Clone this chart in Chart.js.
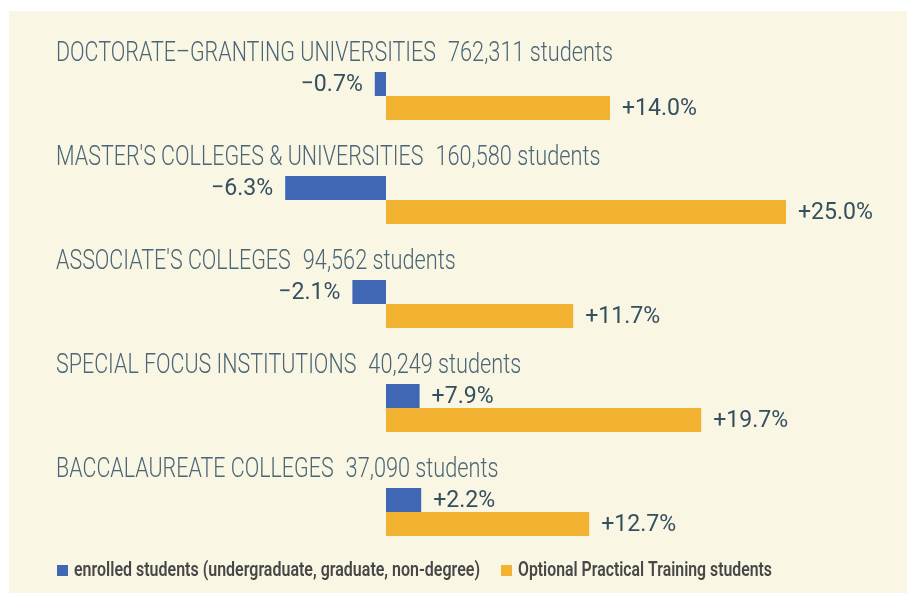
<!DOCTYPE html>
<html>
<head>
<meta charset="utf-8">
<script src="https://cdn.jsdelivr.net/npm/chart.js@4/dist/chart.umd.min.js"></script>
<style>
html,body{margin:0;padding:0;background:#fff;}
#wrap{width:907px;height:593px;}
</style>
</head>
<body>
<div id="wrap"><canvas id="c" width="907" height="593"></canvas></div>
<script>
const categories = ['DOCTORATE\u2013GRANTING UNIVERSITIES', "MASTER'S COLLEGES & UNIVERSITIES", "ASSOCIATE'S COLLEGES", 'SPECIAL FOCUS INSTITUTIONS', 'BACCALAUREATE COLLEGES'];
const studentCounts = ['762,311 students', '160,580 students', '94,562 students', '40,249 students', '37,090 students'];
const enrolledChange = [-0.7, -6.3, -2.1, 2.1, 2.2];
const enrolledLabels = ['\u22120.7%', '\u22126.3%', '\u22122.1%', '+7.9%', '+2.2%'];
const optChange = [14.0, 25.0, 11.7, 19.7, 12.7];
const optLabels = ['+14.0%', '+25.0%', '+11.7%', '+19.7%', '+12.7%'];
const seriesNames = ['enrolled students (undergraduate, graduate, non-degree)', 'Optional Practical Training students'];

const BLUE = '#3F67B3', ORANGE = '#F2B232', CREAM = '#FAF6E4';
const TITLE_COLOR = '#4B6676', LABEL_COLOR = '#34505F', LEGEND_COLOR = '#474747';

function scaledText(ctx, text, x, y, k, align) {
  ctx.save();
  ctx.translate(x, y);
  ctx.scale(k, 1);
  ctx.textAlign = align || 'left';
  ctx.fillText(text, 0, 0);
  ctx.restore();
}

const decor = {
  id: 'decor',
  beforeDraw(chart) {
    const ctx = chart.ctx;
    ctx.save();
    ctx.fillStyle = '#ffffff';
    ctx.fillRect(0, 0, chart.width, chart.height);
    ctx.fillStyle = CREAM;
    ctx.fillRect(9, 11, chart.width - 9, chart.height - 11);
    ctx.restore();
  },
  afterDatasetsDraw(chart) {
    const ctx = chart.ctx;
    const yScale = chart.scales.y;
    ctx.save();
    // titles
    ctx.font = '300 27px Roboto';
    ctx.fillStyle = TITLE_COLOR;
    ctx.textBaseline = 'alphabetic';
    const kT = 380 / ctx.measureText(categories[0]).width;
    const kN = 165 / ctx.measureText(studentCounts[0]).width;
    categories.forEach((c, i) => {
      const yc = yScale.getPixelForValue(i);
      const by = yc - 35;
      const w = ctx.measureText(c).width * kT;
      scaledText(ctx, c, 56, by, kT);
      scaledText(ctx, studentCounts[i], 56 + w + 12, by, kN);
    });
    // value labels
    ctx.font = '400 24px Roboto';
    ctx.fillStyle = LABEL_COLOR;
    ctx.textBaseline = 'middle';
    const kV = 75 / ctx.measureText(optLabels[0]).width;
    const labelSets = [enrolledLabels, optLabels];
    chart.data.datasets.forEach((ds, di) => {
      const meta = chart.getDatasetMeta(di);
      meta.data.forEach((bar, i) => {
        const v = ds.data[i];
        const p = bar.getProps(['x', 'y', 'base'], true);
        if (v < 0) {
          scaledText(ctx, labelSets[di][i], p.x - 12, p.y + 1, kV, 'right');
        } else {
          scaledText(ctx, labelSets[di][i], p.x + 12, p.y + 1, kV, 'left');
        }
      });
    });
    // legend
    ctx.font = '600 21px Roboto';
    ctx.textBaseline = 'alphabetic';
    const targets = [406, 254];
    const legX = [57, 501];
    const cols = [BLUE, ORANGE];
    seriesNames.forEach((n, i) => {
      const k = targets[i] / ctx.measureText(n).width;
      ctx.fillStyle = cols[i];
      ctx.fillRect(legX[i], 565, 11, 11);
      ctx.fillStyle = LEGEND_COLOR;
      scaledText(ctx, n, legX[i] + 17, 576, k);
    });
    ctx.restore();
  }
};

new Chart(document.getElementById('c'), {
  type: 'bar',
  data: {
    labels: categories,
    datasets: [
      { label: seriesNames[0], data: enrolledChange, backgroundColor: BLUE, borderWidth: 0, categoryPercentage: 48/104, barPercentage: 1 },
      { label: seriesNames[1], data: optChange, backgroundColor: ORANGE, borderWidth: 0, categoryPercentage: 48/104, barPercentage: 1 }
    ]
  },
  options: {
    indexAxis: 'y',
    responsive: false,
    devicePixelRatio: 1,
    animation: false,
    layout: { padding: { left: 66, right: 41, top: 44, bottom: 29 } },
    scales: {
      x: { display: false, min: -20, max: 30 },
      y: { display: false, offset: true }
    },
    plugins: { legend: { display: false }, tooltip: { enabled: false } }
  },
  plugins: [decor]
});
</script>
</body>
</html>
